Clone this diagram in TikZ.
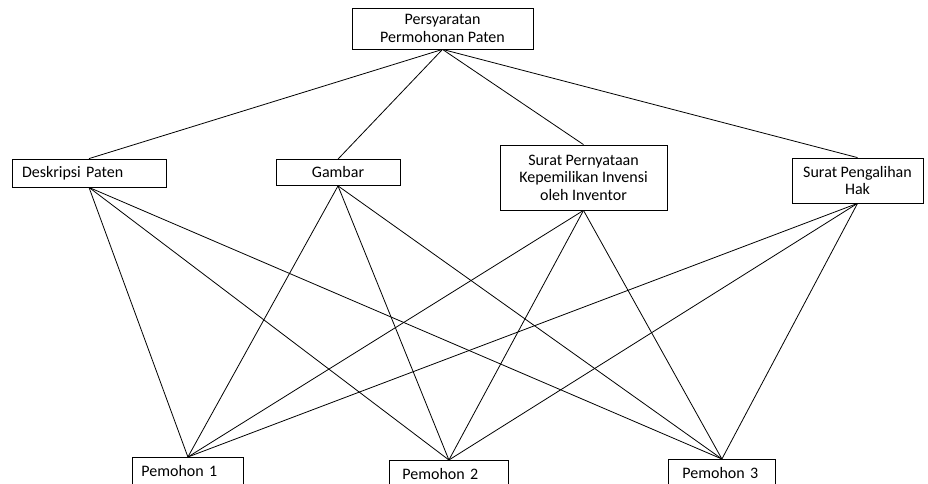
\documentclass[tikz,border=0pt]{standalone}
\usepackage{fontspec}
\setmainfont{Carlito}
\begin{document}
\begin{tikzpicture}[x=1pt, y=-1pt,
  box/.style={draw, line width=0.8pt, inner sep=0pt, align=center, font=\fontsize{16}{17.5}\selectfont},
  leftbox/.style={box, align=left, inner ysep=8pt, anchor=north west},
  link/.style={line width=0.8pt}]
\useasboundingbox (0,0) rectangle (928,484);
\clip (0,0) rectangle (928,484);

% top
\node[box, minimum width=181pt, minimum height=41pt] (syarat) at (442.5,28.5) {Persyaratan\\Permohonan Paten};

% middle row
\node[box, align=left, inner xsep=10pt, text width=134pt, minimum height=28pt] (desk) at (89,173) {Deskripsi Paten};
\node[box, minimum width=124pt, minimum height=26pt] (gambar) at (338,172.5) {Gambar};
\node[box, minimum width=167pt, minimum height=65pt] (pernyataan) at (583.5,177.5) {Surat Pernyataan\\Kepemilikan Invensi\\oleh Inventor};
\node[box, minimum width=131pt, minimum height=45pt] (pengalihan) at (857.5,180.5) {Surat Pengalihan\\Hak};

% bottom row
\node[leftbox, inner xsep=9pt, text width=93pt] (p1) at (132,457) {Pemohon 1};
\node[leftbox, inner xsep=13pt, text width=93pt] (p2) at (389,460) {Pemohon 2};
\node[leftbox, inner xsep=14pt, text width=79pt] (p3) at (668,459) {Pemohon 3};

\foreach \m in {desk,gambar,pernyataan,pengalihan}
{
    \draw[link] (syarat.south) -- (\m.north);
    \foreach \p in {p1,p2,p3}
        \draw[link] (\m.south) -- (\p.north);
}

\end{tikzpicture}
\end{document}
